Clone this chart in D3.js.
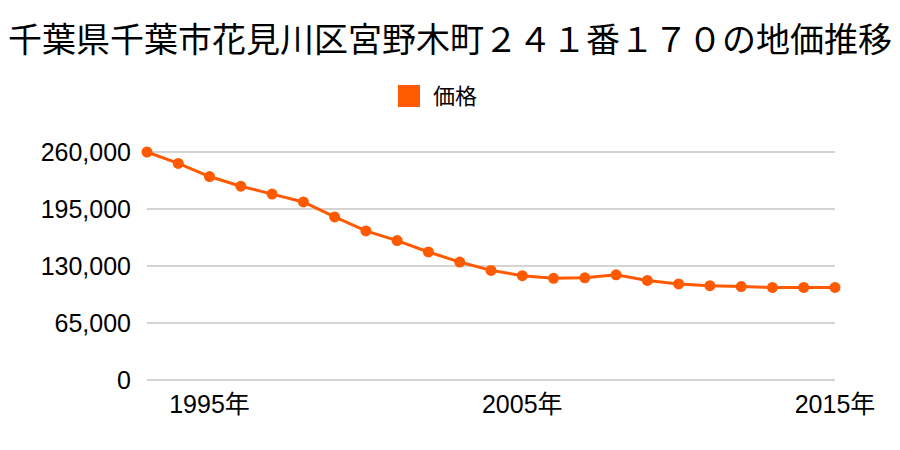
<!DOCTYPE html>
<html><head><meta charset="utf-8">
<script src="https://cdn.jsdelivr.net/npm/d3@7"></script>
<style>body{margin:0;background:#fff}</style></head>
<body><div id="c"></div>
<script>
const title = "千葉県千葉市花見川区宮野木町２４１番１７０の地価推移";
const seriesName = "価格";
const years = [1993,1994,1995,1996,1997,1998,1999,2000,2001,2002,2003,2004,2005,2006,2007,2008,2009,2010,2011,2012,2013,2014,2015];
const prices = [260000,247000,232000,221000,212000,203000,186000,170000,159000,146000,134500,125000,119000,116000,116500,120000,113500,109500,107500,106500,105500,105500,105500];
const yTicks = [0,65000,130000,195000,260000];
const xTicks = [1995,2005,2015];
const color = "#ff5a00";
const font = "'Noto Sans CJK JP', sans-serif";
const tickFont = "'Liberation Sans', 'Noto Sans CJK JP', sans-serif";

const W=900,H=450;
const svg = d3.select("#c").append("svg").attr("width",W).attr("height",H).style("font-family",font);
const x = d3.scaleLinear().domain([1993,2015]).range([147,835]);
const y = d3.scaleLinear().domain([0,260000]).range([380,152]);

svg.append("text").attr("x",450).attr("y",52).attr("text-anchor","middle").attr("font-size",34).attr("fill","#000").text(title);
svg.append("rect").attr("x",398).attr("y",85).attr("width",22).attr("height",22).attr("fill",color);
svg.append("text").attr("x",433).attr("y",104).attr("font-size",22).attr("fill","#000").text(seriesName);

svg.append("g").selectAll("line").data(yTicks).join("line")
  .attr("x1",147).attr("x2",835).attr("y1",d=>y(d)).attr("y2",d=>y(d))
  .attr("stroke","#aaa").attr("stroke-width",1.2);
svg.append("g").selectAll("text").data(yTicks).join("text")
  .attr("x",131).attr("y",d=>y(d)+9).attr("text-anchor","end").attr("font-size",25).attr("fill","#000")
  .style("font-family",tickFont)
  .text(d=>d3.format(",")(d));
svg.append("g").selectAll("text").data(xTicks).join("text")
  .attr("x",d=>x(d)).attr("y",413).attr("text-anchor","middle").attr("font-size",25).attr("fill","#000")
  .style("font-family",tickFont)
  .text(d=>d+"年");

const pts = years.map((yr,i)=>[yr,prices[i]]);
svg.append("path").datum(pts).attr("fill","none").attr("stroke",color).attr("stroke-width",3)
  .attr("d",d3.line().x(d=>x(d[0])).y(d=>y(d[1])));
svg.append("g").selectAll("circle").data(pts).join("circle")
  .attr("cx",d=>x(d[0])).attr("cy",d=>y(d[1])).attr("r",5.5).attr("fill",color);
</script></body></html>
